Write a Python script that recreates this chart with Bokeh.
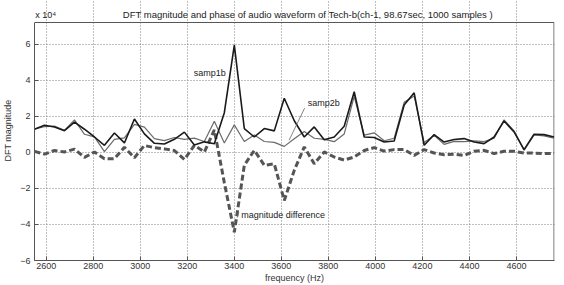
from bokeh.plotting import figure
from bokeh.models import Range1d, Label, FixedTicker, ColumnDataSource
from bokeh.embed import file_html
from bokeh.resources import INLINE

# DFT bin frequencies (Hz), bin width 42.5 Hz
freq = [2550.0, 2592.5, 2635.0, 2677.5, 2720.0, 2762.5, 2805.0, 2847.5, 2890.0, 2932.5,
        2975.0, 3017.5, 3060.0, 3102.5, 3145.0, 3187.5, 3230.0, 3272.5, 3315.0, 3357.5,
        3400.0, 3442.5, 3485.0, 3527.5, 3570.0, 3612.5, 3655.0, 3697.5, 3740.0, 3782.5,
        3825.0, 3867.5, 3910.0, 3952.5, 3995.0, 4037.5, 4080.0, 4122.5, 4165.0, 4207.5,
        4250.0, 4292.5, 4335.0, 4377.5, 4420.0, 4462.5, 4505.0, 4547.5, 4590.0, 4632.5,
        4675.0, 4717.5, 4760.0]

# magnitudes in units of 1e4
samp1b = [1.28, 1.50, 1.40, 1.20, 1.68, 1.28, 0.85, 0.39, 1.07, 0.52,
          1.85, 1.02, 0.50, 0.46, 0.72, 1.12, 0.40, 0.58, 0.48, 2.20,
          5.95, 1.32, 0.85, 1.32, 1.19, 3.00, 1.75, 0.85, 1.41, 0.70,
          0.85, 1.45, 3.36, 0.85, 0.82, 0.57, 0.63, 2.62, 3.30, 0.39,
          0.98, 0.57, 0.71, 0.76, 0.57, 0.48, 0.85, 1.74, 1.13, 0.15,
          1.00, 0.98, 0.85]
samp2b = [1.30, 1.42, 1.45, 1.22, 1.80, 1.00, 0.86, 0.04, 0.72, 0.80,
          1.55, 1.40, 0.76, 0.65, 0.82, 0.72, 0.79, 0.60, 1.72, 0.52,
          1.52, 0.60, 0.96, 0.60, 0.55, 0.33, 0.75, 1.15, 0.78, 0.72,
          0.59, 1.02, 3.10, 0.95, 1.08, 0.64, 0.78, 2.77, 3.13, 0.54,
          0.94, 0.44, 0.61, 0.59, 0.63, 0.59, 0.78, 1.80, 1.19, 0.11,
          0.96, 0.91, 0.78]
mag_diff = [0.05, -0.10, 0.10, 0.02, 0.18, -0.28, 0.02, -0.35, -0.35, 0.28,
            -0.30, 0.38, 0.26, 0.19, 0.10, -0.40, 0.39, 0.02, 1.24, -1.68,
            -4.43, -0.72, 0.11, -0.72, -0.64, -2.67, -1.00, 0.30, -0.63, 0.02,
            -0.26, -0.43, -0.26, 0.10, 0.26, 0.07, 0.15, 0.15, -0.17, 0.15,
            -0.04, -0.13, -0.10, -0.17, 0.06, 0.11, -0.07, 0.06, 0.06, -0.04,
            -0.04, -0.07, -0.07]

x_ticks = [2600, 2800, 3000, 3200, 3400, 3600, 3800, 4000, 4200, 4400, 4600]
y_ticks = [-6, -4, -2, 0, 2, 4, 6]
x_lim = (2550, 4760)
y_lim = (-6, 7.2)

title_text = "DFT magnitude and phase of audio waveform of Tech-b(ch-1, 98.67sec, 1000 samples )"
FONT = "Liberation Sans"
AX = "#555555"

# frame extends above the axes box to host the title text
p = figure(width=556, height=285, output_backend="svg", toolbar_location=None,
           x_range=Range1d(x_lim[0], x_lim[1] + 2), y_range=Range1d(y_lim[0], 8.42),
           min_border_left=26, min_border_right=2, min_border_top=0, min_border_bottom=25)
p.background_fill_color = "white"
p.border_fill_color = "white"
p.outline_line_color = None

src = ColumnDataSource(dict(f=freq, s1=samp1b, s2=samp2b, d=mag_diff))

for ax in (p.xaxis[0], p.yaxis[0]):
    ax.major_tick_in = 4
    ax.major_tick_out = 0
    ax.minor_tick_line_color = None
    ax.axis_line_color = AX
    ax.major_tick_line_color = AX
    ax.major_label_text_font = FONT
    ax.major_label_text_font_size = "9px"
    ax.major_label_text_color = "#333333"
    ax.axis_label_text_font = FONT
    ax.axis_label_text_font_size = "9px"
    ax.axis_label_text_font_style = "normal"
    ax.axis_label_text_color = "#333333"

p.xaxis.ticker = FixedTicker(ticks=x_ticks)
p.yaxis.ticker = FixedTicker(ticks=y_ticks)
p.xaxis.bounds = x_lim
p.yaxis.bounds = y_lim
p.xaxis.axis_label = "frequency (Hz)"
p.yaxis.axis_label = "DFT magnitude"
p.xaxis.major_label_standoff = 2
p.xaxis.axis_label_standoff = 1
p.yaxis.major_label_standoff = 4
p.yaxis.axis_label_standoff = 4

for g in (p.xgrid[0], p.ygrid[0]):
    g.grid_line_color = "#808080"
    g.grid_line_dash = "1 2"
    g.grid_line_width = 1
p.xgrid.ticker = FixedTicker(ticks=x_ticks)
p.ygrid.ticker = FixedTicker(ticks=y_ticks)
p.xgrid.bounds = y_lim
p.ygrid.bounds = x_lim

# axes box (top and right edges)
p.line(x=[x_lim[0], x_lim[1], x_lim[1]], y=[y_lim[1], y_lim[1], y_lim[0]], line_color=AX, line_width=1)

p.line("f", "s2", source=src, line_color="#6a6a6a", line_width=1.2)
p.line("f", "d", source=src, line_color="#555555", line_width=3, line_dash="6 3")
p.line("f", "s1", source=src, line_color="#1a1a1a", line_width=1.6)

# annotation texts
for txt, x, y in [("samp1b", 3227, 4.4), ("samp2b", 3712, 2.74), ("magnitude difference", 3429, -3.45)]:
    p.add_layout(Label(x=x, y=y, text=txt, text_font=FONT, text_font_size="9px",
                       text_color="#222222", text_baseline="middle", text_align="left"))

# leader lines
p.line(x=[3699, 3633], y=[2.45, 0.67], line_color="#666666", line_width=0.8)
p.line(x=[3413, 3419], y=[-3.62, -3.3], line_color="#666666", line_width=0.8)

# title and exponent label above the axes box
p.add_layout(Label(x=3713, y=7.64, text=title_text, text_font=FONT, text_font_size="9.5px",
                   text_color="#222222", text_baseline="middle", text_align="center"))
p.add_layout(Label(x=2553, y=7.64, text="x 10\u2074", text_font=FONT, text_font_size="9px",
                   text_color="#222222", text_baseline="middle", text_align="left"))

open("out.html", "w").write(file_html(p, INLINE))
